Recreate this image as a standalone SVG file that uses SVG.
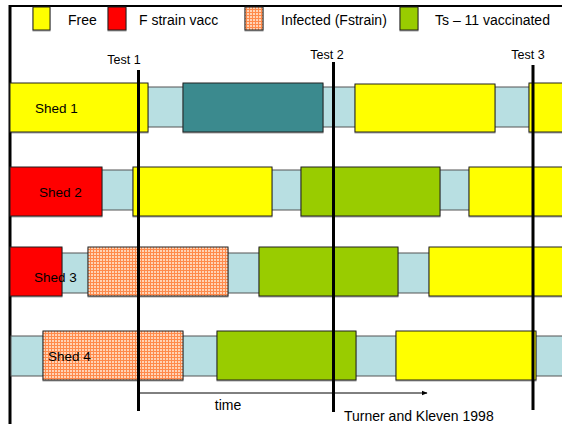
<svg xmlns="http://www.w3.org/2000/svg" width="562" height="424" viewBox="0 0 562 424">
<defs>
<pattern id="chk" width="3" height="3" patternUnits="userSpaceOnUse">
<rect width="3" height="3" fill="#FF8A4C"/>
<rect x="1" y="1" width="2" height="2" fill="#FFD3B6"/>
</pattern>
<marker id="arr" viewBox="0 0 10 10" refX="9" refY="5" markerWidth="6" markerHeight="6" orient="auto" markerUnits="userSpaceOnUse">
<path d="M0,1 L10,5 L0,9 z" fill="#000"/>
</marker>
<filter id="sh" x="-5%" y="-5%" width="110%" height="115%">
<feDropShadow dx="0" dy="1" stdDeviation="0.6" flood-color="#000" flood-opacity="0.35"/>
</filter>
</defs>
<style>
text{font-family:"Liberation Sans",Arial,sans-serif;fill:#000}
.lg{font-size:14px}
.tl{font-size:12.5px;text-anchor:middle}
.sl{font-size:13.5px}
.bar{fill:#B8DFE2;stroke:#555;stroke-width:1}
.bx{stroke:#222;stroke-width:1;filter:url(#sh)}
.y{fill:#FFFF00}
.r{fill:#FF0000}
.t{fill:#3B8A8E}
.g{fill:#99CC00}
.o{fill:url(#chk)}
.tst{stroke:#000;stroke-width:3}
</style>
<rect width="562" height="424" fill="#fff"/>
<g id="frame">
<line x1="10" y1="6" x2="562" y2="6" stroke="#000" stroke-width="2"/>
<line x1="10" y1="5" x2="10" y2="424" stroke="#000" stroke-width="3"/>
</g>
<g id="legend">
<rect class="bx y" x="33" y="7" width="17" height="23"/>
<text class="lg" x="68" y="25">Free</text>
<rect class="bx r" x="108" y="7" width="18" height="23"/>
<text class="lg" x="139" y="25">F strain vacc</text>
<rect class="bx o" x="245" y="7" width="18" height="23"/>
<text class="lg" x="281" y="25">Infected (Fstrain)</text>
<rect class="bx g" x="400" y="7" width="18" height="23"/>
<text class="lg" x="435" y="25">Ts – 11 vaccinated</text>
</g>
<g id="shed1">
<rect class="bar" x="11" y="87" width="552" height="40"/>
<rect class="bx y" x="10" y="83" width="138" height="49"/>
<rect class="bx t" x="183" y="83" width="140" height="49"/>
<rect class="bx y" x="355" y="84" width="140" height="48"/>
<rect class="bx y" x="529" y="83" width="40" height="49"/>
<text class="sl" x="35" y="113">Shed 1</text>
</g>
<g id="shed2">
<rect class="bar" x="11" y="170" width="552" height="40"/>
<rect class="bx r" x="10" y="167" width="92" height="49"/>
<rect class="bx y" x="133" y="167" width="139" height="49"/>
<rect class="bx g" x="301" y="167" width="139" height="49"/>
<rect class="bx y" x="469" y="167" width="100" height="49"/>
<text class="sl" x="39" y="197">Shed 2</text>
</g>
<g id="shed3">
<rect class="bar" x="11" y="253" width="552" height="40"/>
<rect class="bx r" x="10" y="247" width="52" height="49"/>
<rect class="bx o" x="88" y="247" width="140" height="49"/>
<rect class="bx g" x="259" y="247" width="139" height="49"/>
<rect class="bx y" x="429" y="247" width="140" height="49"/>
<text class="sl" x="34" y="282">Shed 3</text>
</g>
<g id="shed4">
<rect class="bar" x="11" y="336" width="552" height="40"/>
<rect class="bx o" x="43" y="331" width="140" height="49"/>
<rect class="bx g" x="217" y="331" width="139" height="49"/>
<rect class="bx y" x="396" y="331" width="140" height="49"/>
<text class="sl" x="48" y="361">Shed 4</text>
</g>
<g id="tests">
<line class="tst" x1="138.5" y1="70" x2="138.5" y2="411"/>
<text class="tl" x="124" y="64">Test 1</text>
<line class="tst" x1="333.5" y1="62" x2="333.5" y2="412"/>
<text class="tl" x="327" y="59">Test 2</text>
<line class="tst" x1="533" y1="65" x2="533" y2="410"/>
<text class="tl" x="528" y="59">Test 3</text>
</g>
<g id="connectors">
<line x1="140" y1="393" x2="427" y2="393" stroke="#000" stroke-width="1" marker-end="url(#arr)"/>
</g>
<g id="notes">
<text class="lg" x="228" y="410" text-anchor="middle">time</text>
<text class="lg" x="344" y="421">Turner and Kleven 1998</text>
</g>
</svg>
